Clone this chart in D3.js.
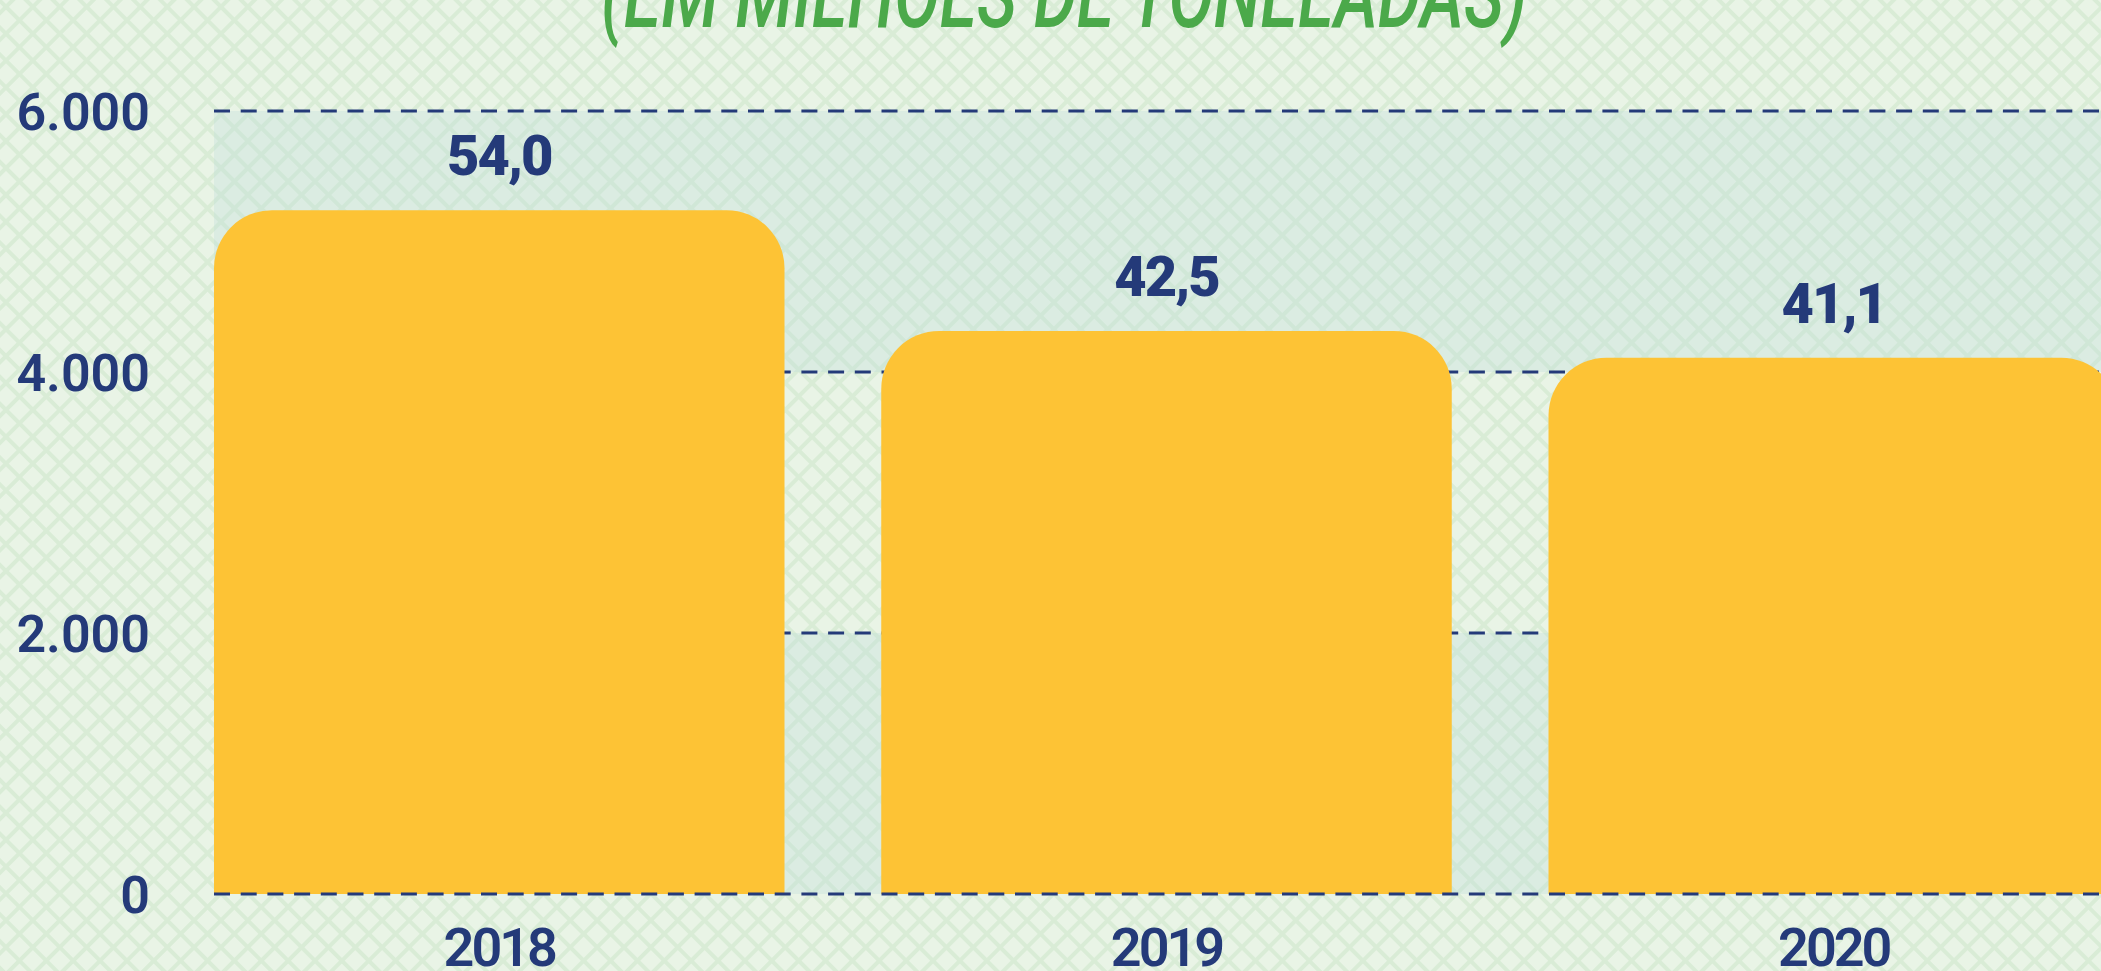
<!DOCTYPE html>
<html lang="pt">
<head>
    <meta charset="UTF-8">
    <title>Produção (em milhões de toneladas)</title>
    <script src="https://d3js.org/d3.v7.min.js"></script>
    <style>
        html, body {
            margin: 0;
            padding: 0;
            overflow: hidden;
            background: #e9f4e6;
        }
        svg { display: block; }
        text { font-family: Roboto, "Noto Sans", sans-serif; }
    </style>
</head>
<body>
    <div id="chart"></div>
    <script>
        // data
        const years = ["2018", "2019", "2020"];
        const barValues = [5240, 4315, 4110];
        const valueLabels = ["54,0", "42,5", "41,1"];
        const yTicks = [0, 2000, 4000, 6000];
        const yTickLabels = ["0", "2.000", "4.000", "6.000"];
        const title = "(EM MILHÕES DE TONELADAS)";

        const W = 2101, H = 971;
        const navy = "#243a79", gold = "#fdc335", green = "#4ba94a";

        const svg = d3.select("#chart").append("svg")
            .attr("width", W)
            .attr("height", H);

        // diamond lattice background
        const defs = svg.append("defs");
        const pat = defs.append("pattern")
            .attr("id", "lattice")
            .attr("patternUnits", "userSpaceOnUse")
            .attr("width", 19)
            .attr("height", 19)
            .attr("patternTransform", "translate(6,4) rotate(45)");
        pat.append("rect").attr("width", 19).attr("height", 19).attr("fill", "#e9f4e6");
        pat.append("rect").attr("width", 19).attr("height", 4).attr("fill", "#d9ecd6");
        pat.append("rect").attr("width", 4).attr("height", 19).attr("fill", "#d9ecd6");

        svg.append("rect")
            .attr("width", W)
            .attr("height", H)
            .attr("fill", "url(#lattice)");

        // scales
        const x = d3.scaleBand()
            .domain(years)
            .range([214, 2119])
            .paddingInner(0.145)
            .paddingOuter(0);

        const y = d3.scaleLinear()
            .domain([0, 6000])
            .range([894, 111]);

        // alternating plot bands
        const bands = [[0, 2000], [4000, 6000]];
        svg.append("g")
            .selectAll("rect")
            .data(bands)
            .join("rect")
            .attr("x", 214)
            .attr("y", d => y(d[1]))
            .attr("width", W - 214)
            .attr("height", d => y(d[0]) - y(d[1]))
            .attr("fill", "rgba(190,221,217,0.32)");

        // dashed gridlines behind the bars
        svg.append("g")
            .selectAll("line")
            .data(yTicks.filter(d => d > 0))
            .join("line")
            .attr("x1", 214)
            .attr("x2", W)
            .attr("y1", d => y(d))
            .attr("y2", d => y(d))
            .attr("stroke", navy)
            .attr("stroke-width", 3)
            .attr("stroke-dasharray", "16 10.7");

        // bars with rounded top corners
        const r = 58;
        function topRounded(x0, y0, w, h) {
            return `M${x0},${y0 + h}V${y0 + r}` +
                `A${r},${r} 0 0 1 ${x0 + r},${y0}` +
                `H${x0 + w - r}` +
                `A${r},${r} 0 0 1 ${x0 + w},${y0 + r}` +
                `V${y0 + h}Z`;
        }

        svg.append("g")
            .selectAll("path")
            .data(years)
            .join("path")
            .attr("d", (d, i) => topRounded(x(d), y(barValues[i]), x.bandwidth(), y(0) - y(barValues[i])))
            .attr("fill", gold);

        // baseline on top of bars
        svg.append("line")
            .attr("x1", 214)
            .attr("x2", W)
            .attr("y1", y(0))
            .attr("y2", y(0))
            .attr("stroke", navy)
            .attr("stroke-width", 3)
            .attr("stroke-dasharray", "16 10.7");

        // value labels
        svg.append("g")
            .selectAll("text")
            .data(years)
            .join("text")
            .attr("x", d => x(d) + x.bandwidth() / 2)
            .attr("y", (d, i) => y(barValues[i]) - 35)
            .attr("text-anchor", "middle")
            .attr("font-size", 56)
            .attr("font-weight", 900)
            .attr("letter-spacing", -2)
            .attr("fill", navy)
            .text((d, i) => valueLabels[i]);

        // y axis labels
        svg.append("g")
            .selectAll("text")
            .data(yTicks)
            .join("text")
            .attr("x", 150)
            .attr("y", d => y(d))
            .attr("dy", "0.37em")
            .attr("text-anchor", "end")
            .attr("font-size", 52)
            .attr("font-weight", 600)
            .attr("fill", navy)
            .text((d, i) => yTickLabels[i]);

        // x axis labels
        svg.append("g")
            .selectAll("text")
            .data(years)
            .join("text")
            .attr("x", d => x(d) + x.bandwidth() / 2)
            .attr("y", 966)
            .attr("text-anchor", "middle")
            .attr("font-size", 54)
            .attr("font-weight", 600)
            .attr("letter-spacing", -3)
            .attr("fill", navy)
            .text(d => d);

        // title, cut by the top edge (taller, condensed look)
        svg.append("text")
            .attr("transform", "translate(1064,27) scale(1,1.35)")
            .attr("text-anchor", "middle")
            .attr("font-size", 68)
            .attr("font-style", "italic")
            .attr("font-weight", 500)
            .attr("fill", green)
            .text(title);
    </script>
</body>
</html>
